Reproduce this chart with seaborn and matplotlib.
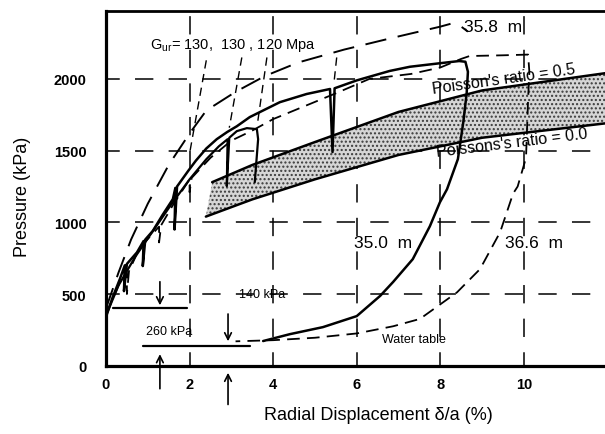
import numpy as np
import pandas as pd
import matplotlib
matplotlib.use("Agg")
import matplotlib.pyplot as plt
import seaborn as sns

# ---------------- data ----------------
# 35.0 m test (solid, main envelope with unload-reload loops and final unloading)
s1_x = [0, 0.15, 0.33, 0.45, 0.43, 0.5, 0.74, 0.9, 0.88, 0.94, 1.12, 1.35, 1.6, 1.66, 1.64, 1.7,
        1.97, 2.15, 2.4, 2.65, 2.9, 3.13, 3.44, 4.16, 4.8, 5.36, 5.42, 5.47, 6.0, 6.79, 7.27, 8.0, 8.45,
        8.6, 8.66, 8.63, 8.55, 8.42, 8.16, 7.99, 7.75, 7.34, 6.87, 6.56, 6.0, 5.19, 4.40, 3.76]
s1_y = [340, 470, 603, 700, 520, 710, 790, 870, 695, 880, 940, 1050, 1162, 1240, 950, 1250,
        1360, 1430, 1515, 1580, 1630, 1670, 1734, 1838, 1895, 1930, 1490, 1935, 1990, 2056, 2085, 2110, 2125,
        2120, 2050, 1900, 1700, 1441, 1231, 1140, 973, 743, 584, 487, 346, 269, 220, 172]

# second solid loading branch with two loops
s2_x = [0, 0.3, 0.7, 1.1, 1.55, 2.0, 2.4, 2.7, 2.91, 2.89, 2.95, 3.13, 3.37, 3.61, 3.64, 3.56]
s2_y = [350, 560, 760, 930, 1120, 1300, 1440, 1530, 1580, 1253, 1590, 1636, 1657, 1650, 1580, 1280]

# 35.8 m test (long dashes)
d1_x = [0, 0.3, 0.6, 1.0, 1.5, 2.0, 2.4, 3.1, 3.8, 4.6, 5.7, 6.9, 8.0, 8.25, 8.5, 8.66]
d1_y = [400, 650, 880, 1130, 1400, 1620, 1780, 1910, 2020, 2115, 2205, 2290, 2365, 2385, 2365, 2330]

# 36.6 m test (short dashes: loading, loops, unloading to water table)
d2_x = [0, 0.3, 0.5, 0.5, 0.55, 0.8, 1.27, 1.27, 1.32, 1.6, 2.0, 2.0, 2.05, 2.5, 3.0, 3.5, 4.0,
        4.5, 5.0, 5.5, 6.3, 7.3, 8.0, 8.5, 8.7, 9.5, 10.1, 10.13, 10.1, 10.05, 9.85, 9.74, 9.43,
        8.95, 8.40, 7.51, 6.87, 6.0, 5.0, 4.0, 3.1]
d2_y = [360, 560, 650, 500, 660, 820, 970, 860, 980, 1120, 1300, 1210, 1310, 1450, 1570, 1640, 1720,
        1780, 1840, 1900, 2000, 2035, 2080, 2140, 2160, 2165, 2170, 2050, 1860, 1450, 1250, 1200, 931,
        674, 512, 326, 275, 225, 195, 178, 170]

# Poisson's ratio band
band_up_x = [2.54, 3.5, 5.0, 7.0, 9.0, 11.94]
band_up_y = [1280, 1400, 1560, 1770, 1920, 2040]
band_lo_x = [2.39, 3.5, 5.0, 7.0, 9.0, 11.94]
band_lo_y = [1040, 1160, 1300, 1470, 1590, 1690]

# G_ur leader lines (start -> end)
lead_x0 = [2.4, 3.25, 3.85, 5.52]
lead_y0 = [2130, 2150, 2150, 2150]
lead_x1 = [2.0, 2.95, 3.62, 5.45]
lead_y1 = [1480, 1660, 1680, 1960]

# reference levels and arrows
lvl_y = [402, 137]
lvl_x0 = [0.17, 0.89]
lvl_x1 = [1.94, 3.44]
arrow_x = [1.29, 2.92]
down_from = [605, 380]
down_to = [402, 151]
up_from = [-180, -290]
up_to = [100, -30]

x_ticks = [0, 2, 4, 6, 8, 10]
y_ticks = [0, 500, 1000, 1500, 2000]

# ---------------- figure ----------------
sns.set_theme(style="white")
plt.rcParams["font.family"] = ["Liberation Sans", "DejaVu Sans"]
plt.rcParams["hatch.linewidth"] = 1.0
plt.rcParams["text.color"] = "black"
plt.rcParams["axes.labelcolor"] = "black"
plt.rcParams["xtick.color"] = "black"
plt.rcParams["ytick.color"] = "black"

fig = plt.figure(figsize=(6.05, 4.35), dpi=100)
ax = fig.add_axes([106 / 605, (435 - 366.7) / 435, (605 - 106) / 605, (366.7 - 12) / 435])
ax.set_xlim(0, 11.94)
ax.set_ylim(0, 2474)

# grid
ax.set_xticks(x_ticks)
ax.set_yticks(y_ticks)
for xv in x_ticks[1:]:
    ax.axvline(xv, color="black", lw=1.1, ls=(3, (12, 10)), zorder=1)
for yv in y_ticks[1:]:
    ax.axhline(yv, color="black", lw=1.1, ls=(3, (12, 10)), zorder=1)

# band
bx = np.r_[band_up_x, band_lo_x[::-1]]
by = np.r_[band_up_y, band_lo_y[::-1]]
ax.fill(bx, by, facecolor="#d6d6d6", hatch="....", edgecolor="#3a3a3a", linewidth=0, zorder=2)
sns.lineplot(x=band_up_x, y=band_up_y, color="black", lw=1.8, sort=False, estimator=None, ax=ax, zorder=3)
sns.lineplot(x=band_lo_x, y=band_lo_y, color="black", lw=1.8, sort=False, estimator=None, ax=ax, zorder=3)

# curves
sns.lineplot(x=s1_x, y=s1_y, color="black", lw=1.8, sort=False, estimator=None, ax=ax, zorder=4)
sns.lineplot(x=s2_x, y=s2_y, color="black", lw=1.6, sort=False, estimator=None, ax=ax, zorder=4)
sns.lineplot(x=d1_x, y=d1_y, color="black", lw=1.4, sort=False, estimator=None, ax=ax, zorder=4,
             linestyle=(0, (11, 6)))
sns.lineplot(x=d2_x, y=d2_y, color="black", lw=1.3, sort=False, estimator=None, ax=ax, zorder=4,
             linestyle=(0, (7, 4)))

for a, b, c, d in zip(lead_x0, lead_y0, lead_x1, lead_y1):
    ax.plot([a, c], [b, d], color="black", lw=1.0, ls=(0, (6, 4)), zorder=4)

# reference levels and arrows
for yv, a, b in zip(lvl_y, lvl_x0, lvl_x1):
    ax.plot([a, b], [yv, yv], color="black", lw=1.6, zorder=4)
for xv, f, t in zip(arrow_x, down_from, down_to):
    ax.annotate("", xy=(xv, t), xytext=(xv, f),
                arrowprops=dict(arrowstyle="->", color="black", lw=1.2, mutation_scale=12))
for xv, f, t in zip(arrow_x, up_from, up_to):
    ax.annotate("", xy=(xv, t), xytext=(xv, f), annotation_clip=False,
                arrowprops=dict(arrowstyle="->", color="black", lw=1.2, mutation_scale=12))

# texts
ax.text(1.05, 2243, r"G$_{\mathregular{ur}}$= 130,  130 , 120 Mpa", fontsize=10.5, ha="left", va="center")
ax.text(9.26, 2369, "35.8  m", fontsize=12.5, ha="center", va="center")
ax.text(9.52, 2000, "Poisson's ratio = 0.5", fontsize=11.5, ha="center", va="center", rotation=8)
ax.text(9.71, 1558, "Poissons's ratio = 0.0", fontsize=11.5, ha="center", va="center", rotation=7)
ax.text(6.63, 862, "35.0  m", fontsize=12.5, ha="center", va="center")
ax.text(10.24, 862, "36.6  m", fontsize=12.5, ha="center", va="center")
ax.text(3.73, 500, "140 kPa", fontsize=9, ha="center", va="center")
ax.text(1.5, 242, "260 kPa", fontsize=9, ha="center", va="center")
ax.text(7.37, 186, "Water table", fontsize=9, ha="center", va="center")

# axes styling
for side in ["left", "bottom", "top"]:
    ax.spines[side].set_color("black")
ax.spines["left"].set_linewidth(2.3)
ax.spines["bottom"].set_linewidth(2.3)
ax.spines["top"].set_linewidth(2.0)
ax.spines["right"].set_visible(False)
ax.tick_params(length=0, colors="black")
ax.tick_params(axis="y", pad=14)
ax.tick_params(axis="x", pad=8)
for lab in ax.get_xticklabels() + ax.get_yticklabels():
    lab.set_fontweight("bold")
    lab.set_fontsize(10.5)
ax.set_xlabel("Radial Displacement δ/a (%)", fontsize=13, color="black")
ax.set_ylabel("Pressure (kPa)", fontsize=13, color="black")
ax.xaxis.set_label_coords(0.545, -0.115)
ax.yaxis.set_label_coords(-0.15, 0.478)

fig.savefig("out.png", dpi=100)
